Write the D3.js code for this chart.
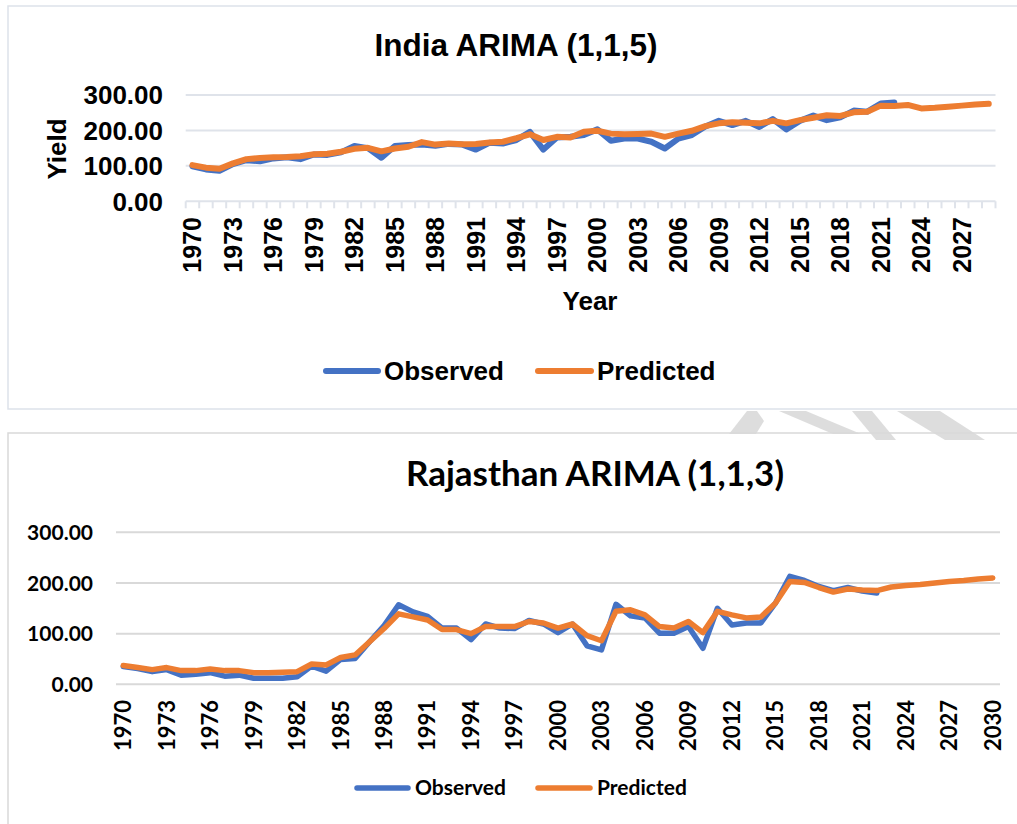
<!DOCTYPE html>
<html>
<head>
<meta charset="utf-8">
<script src="https://cdn.jsdelivr.net/npm/d3@7"></script>
<style>
  html, body { margin: 0; padding: 0; background: #ffffff; }
  svg { display: block; }
</style>
</head>
<body>
<svg id="chart" width="1017" height="824"></svg>
<script>
// ---------------- DATA ----------------
const indiaYears = d3.range(1970, 2030).map(String);          // 1970..2029
const indiaObserved = [99, 90, 86, 105, 116, 113, 121, 124, 119, 132,
  131, 138, 156, 150, 123, 156, 159, 160, 157, 162,
  160, 146, 165, 163, 173, 196, 146, 180, 182, 187,
  203, 171, 177, 177, 168, 149, 177, 187, 211, 227,
  215, 227, 210, 232, 203, 227, 242, 229, 237, 256,
  253, 276, 279];                                              // 1970..2022
const indiaPredicted = [102, 95, 92, 107, 119, 122, 124, 125, 127, 133,
  134, 140, 148, 151, 141, 149, 154, 167, 160, 163,
  161, 162, 166, 168, 178, 189, 173, 182, 180, 196,
  199, 191, 189, 190, 191, 182, 191, 199, 212, 220,
  223, 222, 220, 227, 220, 229, 236, 243, 241, 251,
  253, 270, 269, 272, 262, 264, 267, 270, 273, 275];           // 1970..2029

const rajYears = d3.range(1970, 2031).map(String);            // 1970..2030
const rajObserved = [35, 31, 25, 29, 18, 20, 23, 16, 18, 12,
  12, 12, 15, 36, 26, 49, 51, 84, 116, 157,
  143, 134, 111, 111, 88, 119, 111, 110, 126, 119,
  102, 119, 76, 68, 158, 135, 131, 101, 101, 114,
  71, 150, 117, 121, 121, 160, 213, 205, 193, 185,
  191, 184, 180];                                              // 1970..2022
const rajPredicted = [37, 33, 29, 33, 27, 27, 30, 27, 27, 23,
  23, 24, 25, 40, 38, 53, 58, 84, 110, 139,
  133, 127, 108, 108, 100, 114, 114, 114, 124, 121,
  111, 119, 96, 86, 144, 147, 137, 114, 111, 124,
  102, 144, 137, 131, 133, 160, 203, 201, 191, 182,
  188, 186, 185, 192, 195, 197, 200, 203, 205, 208, 210];      // 1970..2030

const yTicks = [0, 100, 200, 300];
const seriesNames = ["Observed", "Predicted"];
const indiaTitle = "India ARIMA (1,1,5)";
const rajTitle = "Rajasthan ARIMA (1,1,3)";
const yAxisTitle = "Yield";
const xAxisTitle = "Year";

// ---------------- STYLE ----------------
const BLUE = "#4472C4", ORANGE = "#ED7D31";
const svg = d3.select("#chart");
const fmt = d3.format(".2f");

// watermark fragments between panels (decoration)
const watermark = [
  [[729,434],[747,411],[757,411],[764,421],[756,434]],
  [[779,411],[806,411],[861,434],[833,434]],
  [[852,411],[872,411],[896,440],[876,440]],
  [[897,411],[940,411],[985,440],[945,440]]
];

function drawChart(cfg) {
  const g = svg.append("g");
  g.append("rect")
    .attr("x", cfg.panel[0]).attr("y", cfg.panel[1])
    .attr("width", cfg.panel[2]).attr("height", cfg.panel[3])
    .attr("fill", "#fff").attr("stroke", cfg.borderColor).attr("stroke-width", 1.5);

  const x = d3.scaleBand().domain(cfg.years).range([cfg.left, cfg.right]).padding(0);
  const y = d3.scaleLinear().domain([0, 300]).range([cfg.bottom, cfg.top]);
  const cx = d => x(d) + x.bandwidth() / 2;

  g.append("g").selectAll("line").data(yTicks).join("line")
    .attr("x1", cfg.left).attr("x2", cfg.right)
    .attr("y1", d => y(d)).attr("y2", d => y(d))
    .attr("stroke", cfg.gridColor).attr("stroke-width", 2);

  g.append("g").selectAll("text").data(yTicks).join("text")
    .attr("x", cfg.yLabelX).attr("y", d => y(d)).attr("dy", "0.36em")
    .attr("text-anchor", "end")
    .style("font-family", cfg.font).style("font-weight", "bold")
    .style("font-size", cfg.yFont + "px").attr("fill", "#000")
    .text(d => fmt(d));

  if (cfg.tickMarks) {
    const bounds = cfg.years.map(d => x(d)).concat([x(cfg.years[cfg.years.length - 1]) + x.bandwidth()]);
    g.append("g").selectAll("line").data(bounds).join("line")
      .attr("x1", d => d).attr("x2", d => d)
      .attr("y1", y(0)).attr("y2", y(0) + 7)
      .attr("stroke", cfg.gridColor).attr("stroke-width", 2);
  }

  const labYears = cfg.years.filter((d, i) => i % 3 === 0);
  g.append("g").selectAll("text").data(labYears).join("text")
    .attr("transform", d => `translate(${cx(d)},${cfg.xLabelY}) rotate(-90)`)
    .attr("dy", "0.36em").attr("text-anchor", "end")
    .style("font-family", cfg.xFontFamily).style("font-weight", "bold")
    .style("font-size", cfg.xFont + "px").attr("fill", "#000")
    .text(d => d);

  const line = d3.line().x(d => cx(d.year)).y(d => y(d.v)).curve(d3.curveLinear);
  const obs = cfg.observed.map((v, i) => ({ year: cfg.years[i], v }));
  const pred = cfg.predicted.map((v, i) => ({ year: cfg.years[i], v }));
  g.append("path").datum(obs).attr("d", line)
    .attr("fill", "none").attr("stroke", BLUE).attr("stroke-width", cfg.lineW)
    .attr("stroke-linejoin", "round").attr("stroke-linecap", "round");
  g.append("path").datum(pred).attr("d", line)
    .attr("fill", "none").attr("stroke", ORANGE).attr("stroke-width", cfg.lineW)
    .attr("stroke-linejoin", "round").attr("stroke-linecap", "round");

  g.append("text").attr("x", cfg.titleX).attr("y", cfg.titleY)
    .attr("text-anchor", "middle")
    .style("font-family", cfg.font).style("font-weight", "bold")
    .style("font-size", cfg.titleFont + "px").attr("fill", "#000")
    .text(cfg.title);

  const colors = [BLUE, ORANGE];
  seriesNames.forEach((name, i) => {
    const L = cfg.legend[i];
    g.append("line").attr("x1", L[0]).attr("x2", L[1])
      .attr("y1", cfg.legendLineY).attr("y2", cfg.legendLineY)
      .attr("stroke", colors[i]).attr("stroke-width", cfg.lineW)
      .attr("stroke-linecap", "round");
    g.append("text").attr("x", L[2]).attr("y", cfg.legendTextY)
      .style("font-family", cfg.font).style("font-weight", "bold")
      .style("font-size", cfg.legendFont + "px").attr("fill", "#000")
      .text(name);
  });
  return g;
}

// Top chart: India
const gTop = drawChart({
  panel: [8, 6, 1040, 403], borderColor: "#dde2ea",
  years: indiaYears, observed: indiaObserved, predicted: indiaPredicted,
  left: 185.7, right: 995.5, top: 95, bottom: 201.3,
  gridColor: "#dfe3ea", font: "'Liberation Sans', Arial, sans-serif",
  xFontFamily: "'Liberation Sans', Arial, sans-serif",
  yLabelX: 163, yFont: 26, xLabelY: 217, xFont: 25, tickMarks: true,
  lineW: 6, title: indiaTitle, titleX: 516, titleY: 56, titleFont: 31.5,
  legend: [[326, 378, 384], [538, 591, 597]], legendLineY: 371, legendTextY: 380, legendFont: 26
});
gTop.append("text")
  .attr("transform", "translate(57,149) rotate(-90)")
  .attr("text-anchor", "middle").attr("dy", "0.36em")
  .style("font-family", "'Liberation Sans', Arial, sans-serif").style("font-weight", "bold")
  .style("font-size", "26px").text(yAxisTitle);
gTop.append("text")
  .attr("x", 590).attr("y", 310).attr("text-anchor", "middle")
  .style("font-family", "'Liberation Sans', Arial, sans-serif").style("font-weight", "bold")
  .style("font-size", "26px").text(xAxisTitle);

// Bottom chart: Rajasthan
drawChart({
  panel: [8, 433, 1040, 420], borderColor: "#d9d9d9",
  years: rajYears, observed: rajObserved, predicted: rajPredicted,
  left: 116, right: 1000, top: 532.3, bottom: 684.3,
  gridColor: "#d9d9d9", font: "Lato, 'Open Sans', sans-serif",
  xFontFamily: "Lato, 'Open Sans', sans-serif",
  yLabelX: 93, yFont: 21, xLabelY: 700, xFont: 22, tickMarks: false,
  lineW: 5.5, title: rajTitle, titleX: 595, titleY: 486, titleFont: 35,
  legend: [[357, 408, 415], [538, 590, 597]], legendLineY: 788, legendTextY: 795, legendFont: 21
});

svg.append("g").selectAll("polygon").data(watermark).join("polygon")
  .attr("points", d => d.map(p => p.join(",")).join(" "))
  .attr("fill", "#d9d9d9").attr("opacity", 0.9);
</script>
</body>
</html>
